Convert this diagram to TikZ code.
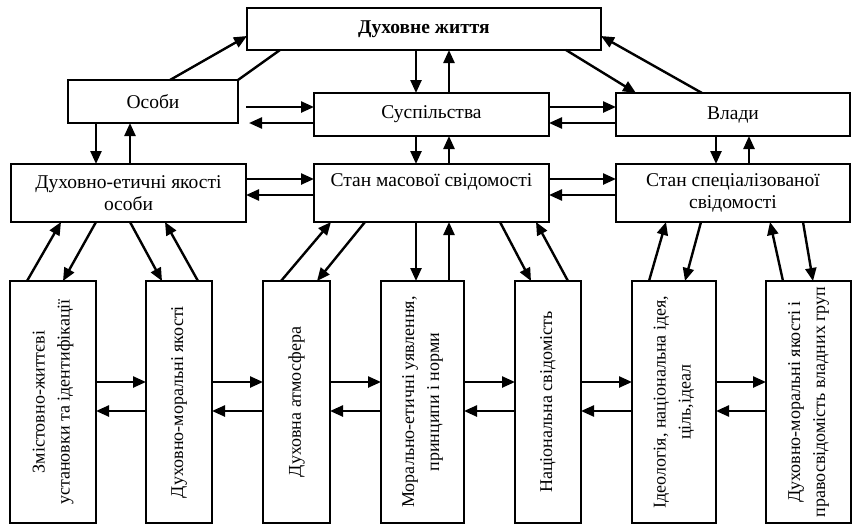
\documentclass[tikz,border=0pt]{standalone}
\usepackage{fontspec}
\setmainfont{Liberation Serif}
\usetikzlibrary{arrows.meta,calc}
\begin{document}
\begin{tikzpicture}[x=1pt,y=-1pt,
 box/.style={draw, line width=1.1pt, inner sep=0pt, outer sep=0pt, align=center, font=\fontsize{19.5}{22}\selectfont},
 txt/.style={inner sep=0pt, align=center, font=\fontsize{19.5}{22}\selectfont},
 arr/.style={line width=2.4pt, -{Triangle[length=13pt,width=11pt]}},
 ln/.style={line width=2.4pt},
 vt/.style={rotate=90, inner sep=0pt, align=center, font=\fontsize{18}{25}\selectfont}]
\useasboundingbox (0,0) rectangle (854,528);
% top level
\node[box, minimum width=354pt, minimum height=42pt, font=\bfseries\fontsize{19.5}{22}\selectfont] (top) at (424,29) {Духовне життя};
\node[box, minimum width=170pt, minimum height=43pt] (osoby) at (153,101.5) {Особи};
\node[box, minimum width=235pt, minimum height=43pt] (susp) at (431.5,114.5) {Суспільства};
\node[box, minimum width=234pt, minimum height=43pt] (vlady) at (733,114.5) {Влади};
% middle level
\node[box, minimum width=235pt, minimum height=58pt] (det) at (128.5,193) {Духовно-етичні якості\\особи};
\node[box, minimum width=235pt, minimum height=58pt] (mas) at (431.5,193) {};
\node[txt] (tmas) at (431.5,182) {Стан масової свідомості};
\node[box, minimum width=234pt, minimum height=58pt] (spec) at (733,193) {Стан спеціалізованої\\свідомості};
% bottom level
\node[box, minimum width=86pt, minimum height=242pt] (b1) at (53,402) {};
\node[box, minimum width=66pt, minimum height=242pt] (b2) at (179,402) {};
\node[box, minimum width=67pt, minimum height=242pt] (b3) at (296.5,402) {};
\node[box, minimum width=83pt, minimum height=242pt] (b4) at (422.5,402) {};
\node[box, minimum width=66pt, minimum height=242pt] (b5) at (548,402) {};
\node[box, minimum width=84pt, minimum height=242pt] (b6) at (674,402) {};
\node[box, minimum width=85pt, minimum height=242pt] (b7) at (808.5,402) {};
\node[vt] (t1) at (b1) {Змістовно-життєві\\установки та ідентифікації};
\node[vt] (t2) at (b2) {Духовно-моральні якості};
\node[vt] (t3) at (b3) {Духовна атмосфера};
\node[vt] (t4) at (b4) {Морально-етичні уявлення,\\принципи і норми};
\node[vt] (t5) at (b5) {Національна свідомість};
\node[vt] (t6) at (b6) {Ідеологія, національна ідея,\\ціль,ідеал};
\node[vt] (t7) at (b7) {Духовно-моральні якості і\\правосвідомість владних груп};
% top connectors
\draw[arr] ($(osoby.north west)+(102,0)$) -- ($(top.north west)+(0,28)$);
\draw[ln] ($(top.south west)+(33,0)$) -- (osoby.north east);
\draw[arr] ($(top.south west)+(169,0)$) -- ($(susp.north west)+(102,0)$);
\draw[arr] ($(susp.north west)+(135,0)$) -- ($(top.south west)+(202,0)$);
\draw[arr] ($(top.south east)+(-35,0)$) -- ($(vlady.north west)+(20,0)$);
\draw[arr] ($(vlady.north west)+(86,0)$) -- ($(top.north east)+(0,28)$);
% row 2 horizontals
\draw[arr] ($(osoby.north east)+(8,27)$) -- ($(susp.north west)+(0,14)$);
\draw[arr] ($(susp.north west)+(0,30)$) -- ($(osoby.north east)+(11,43)$);
\draw[arr] ($(susp.north east)+(0,14)$) -- ($(vlady.north west)+(0,14)$);
\draw[arr] ($(vlady.north west)+(0,30)$) -- ($(susp.north east)+(0,30)$);
% row 2 -> row 3 verticals
\draw[arr] ($(osoby.south west)+(28,0)$) -- ($(det.north west)+(85,0)$);
\draw[arr] ($(det.north west)+(119,0)$) -- ($(osoby.south west)+(62,0)$);
\draw[arr] ($(susp.south west)+(102,0)$) -- ($(mas.north west)+(102,0)$);
\draw[arr] ($(mas.north west)+(135,0)$) -- ($(susp.south west)+(135,0)$);
\draw[arr] ($(vlady.south west)+(100,0)$) -- ($(spec.north west)+(100,0)$);
\draw[arr] ($(spec.north west)+(133,0)$) -- ($(vlady.south west)+(133,0)$);
% row 3 horizontals
\draw[arr] ($(det.north east)+(0,15)$) -- ($(mas.north west)+(0,15)$);
\draw[arr] ($(mas.north west)+(0,31)$) -- ($(det.north east)+(0,31)$);
\draw[arr] ($(mas.north east)+(0,15)$) -- ($(spec.north west)+(0,15)$);
\draw[arr] ($(spec.north west)+(0,31)$) -- ($(mas.north east)+(0,31)$);
% row 3 -> bottom
\draw[arr] ($(b1.north west)+(17,0)$) -- ($(det.south west)+(50,0)$);
\draw[arr] ($(det.south west)+(85,0)$) -- ($(b1.north west)+(53,0)$);
\draw[arr] ($(det.south west)+(119,0)$) -- ($(b2.north west)+(16,0)$);
\draw[arr] ($(b2.north west)+(52,0)$) -- ($(det.south west)+(154,0)$);
\draw[arr] ($(b3.north west)+(18,0)$) -- ($(mas.south west)+(17,0)$);
\draw[arr] ($(mas.south west)+(51,0)$) -- ($(b3.north west)+(54,0)$);
\draw[arr] ($(mas.south west)+(102,0)$) -- ($(b4.north west)+(35,0)$);
\draw[arr] ($(b4.north west)+(68,0)$) -- ($(mas.south west)+(135,0)$);
\draw[arr] ($(mas.south west)+(186,0)$) -- ($(b5.north west)+(16,0)$);
\draw[arr] ($(b5.north west)+(53,0)$) -- ($(mas.south west)+(222,0)$);
\draw[arr] ($(b6.north west)+(17,0)$) -- ($(spec.south west)+(50,0)$);
\draw[arr] ($(spec.south west)+(85,0)$) -- ($(b6.north west)+(53,0)$);
\draw[arr] ($(b7.north west)+(17,0)$) -- ($(spec.south west)+(154,0)$);
\draw[arr] ($(spec.south west)+(187,0)$) -- ($(b7.north west)+(47,0)$);
% bottom horizontals
\foreach \a/\b in {b1/b2,b2/b3,b3/b4,b4/b5,b5/b6,b6/b7}{
  \draw[arr] ($(\a.north east)+(0,101)$) -- ($(\b.north west)+(0,101)$);
  \draw[arr] ($(\b.north west)+(0,130)$) -- ($(\a.north east)+(0,130)$);
}
\end{tikzpicture}
\end{document}
